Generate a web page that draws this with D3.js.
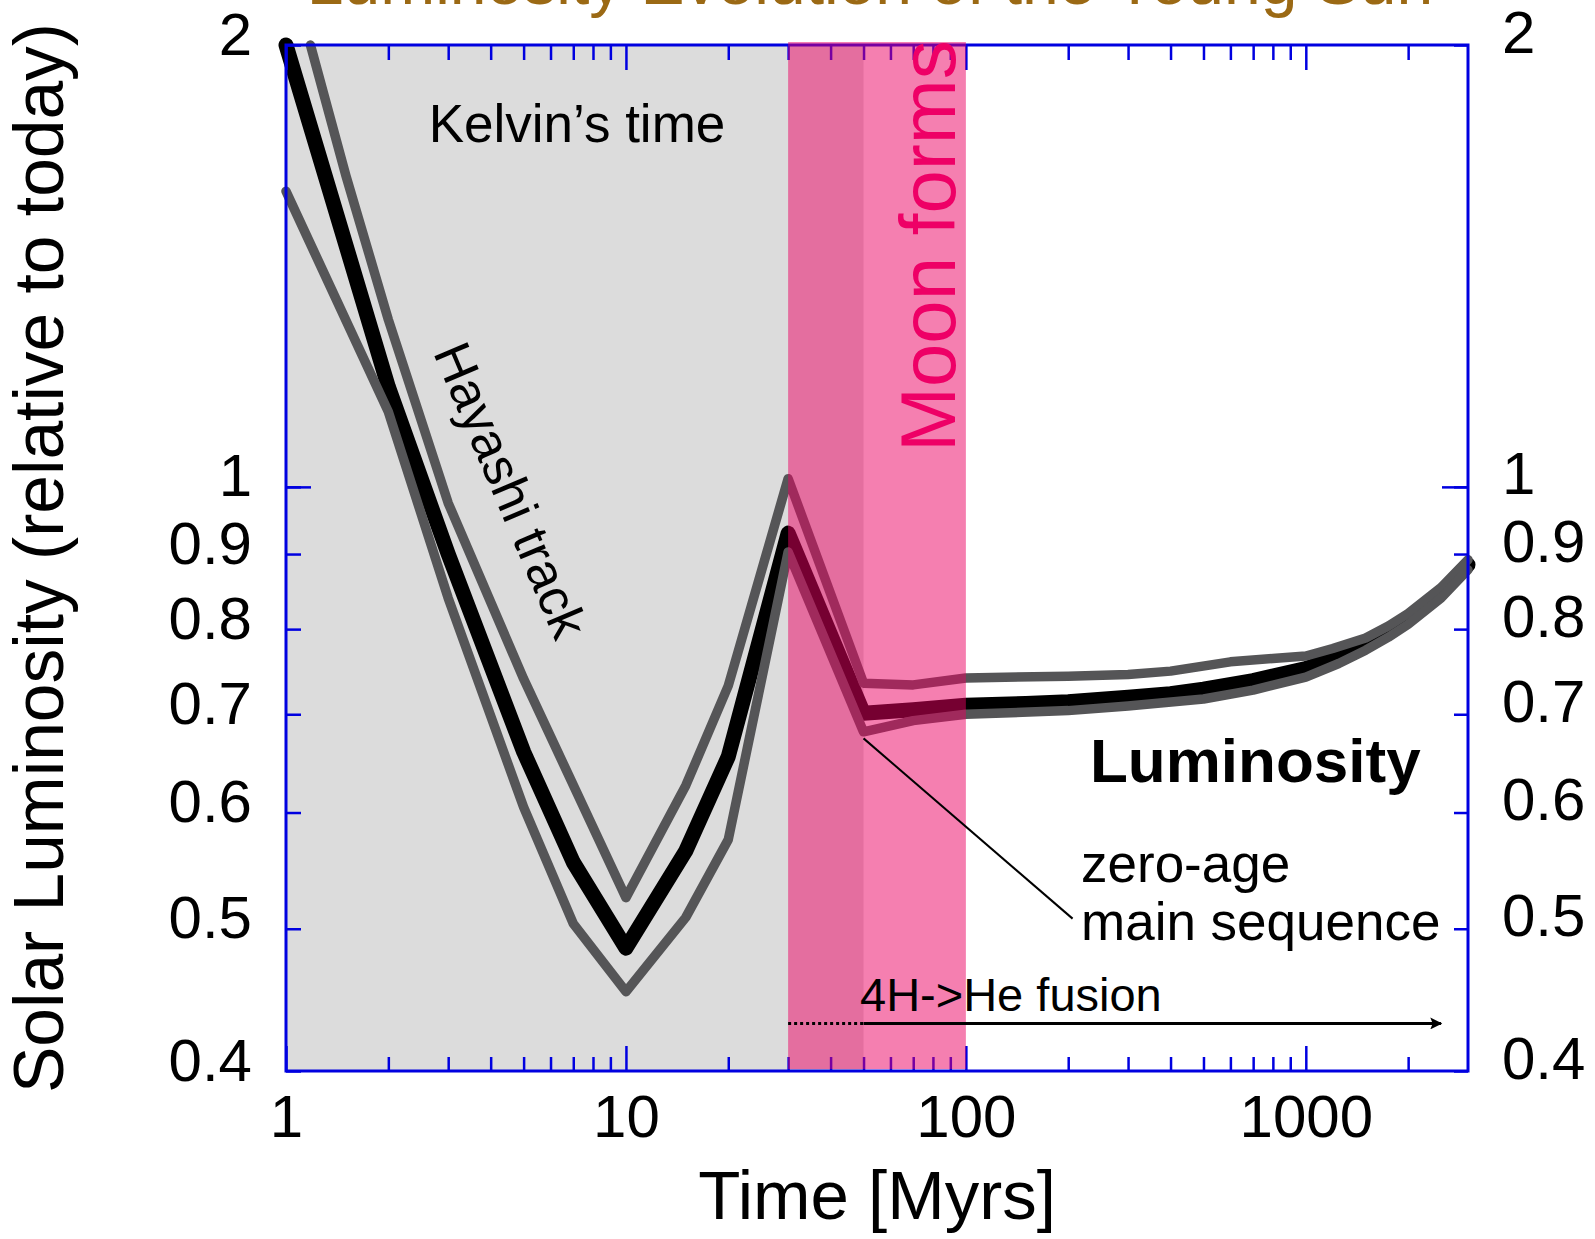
<!DOCTYPE html>
<html><head><meta charset="utf-8">
<script src="https://cdn.jsdelivr.net/npm/d3@7"></script>
<style>
body{margin:0;background:#fff;}
svg{display:block;}
text{font-family:"Liberation Sans", Arial, sans-serif;}
</style>
</head><body>
<svg id="c" width="1595" height="1239"></svg>
<script>
// ---------- data ----------
const timeDomain = [1, 3000];
const lumDomain = [0.4, 2];

// main (thick black) track
const timeBlack = [1, 2, 3, 5, 7, 10, 15, 20, 30, 50, 70, 100, 150, 200, 300, 400, 500, 700, 1000, 1250, 1500, 1750, 2000, 2500, 3000];
const lumBlack  = [2.0, 1.17, 0.90, 0.66, 0.555, 0.485, 0.565, 0.655, 0.93, 0.701, 0.705, 0.710, 0.712, 0.714, 0.719, 0.723, 0.728, 0.738, 0.752, 0.766, 0.781, 0.797, 0.813, 0.847, 0.885];

// upper grey track
const timeUpper = [1.18, 1.5, 2, 3, 5, 10, 15, 20, 30, 50, 70, 100, 200, 300, 400, 600, 800, 1000, 1200, 1500, 1750, 2000, 2500, 3000];
const lumUpper  = [2.0, 1.63, 1.30, 0.975, 0.74, 0.525, 0.626, 0.732, 1.013, 0.735, 0.733, 0.741, 0.743, 0.745, 0.749, 0.760, 0.764, 0.767, 0.776, 0.789, 0.804, 0.820, 0.854, 0.892];

// lower grey track
const timeLower = [1, 2, 3, 5, 7, 10, 15, 20, 30, 50, 70, 100, 200, 300, 500, 700, 1000, 1250, 1500, 1750, 2000, 2500, 3000];
const lumLower  = [1.59, 1.125, 0.84, 0.605, 0.504, 0.453, 0.509, 0.575, 0.903, 0.681, 0.693, 0.700, 0.704, 0.709, 0.717, 0.727, 0.742, 0.758, 0.774, 0.790, 0.806, 0.840, 0.878];

// shaded spans (Myr)
const kelvinSpan = [1, 50];
const moonSpan = [30, 100];
// fusion arrow: dotted start, solid start, tip (Myr)
const fusionArrow = [30, 50, 2500];
const fusionLevel = 0.431;
// leader line for "zero-age main sequence" [time, lum]
const leaderFrom = [50, 0.674];
const leaderTo = [206, 0.508];

// tick labels
const xTickLabels = [1, 10, 100, 1000];
const yTickLabels = [2, 1, 0.9, 0.8, 0.7, 0.6, 0.5, 0.4];
const yMajorTicks = [1];

// ---------- drawing ----------
const m = {l: 286, r: 1468, t: 45, b: 1071};
const blue = '#0000e0';
const x = d3.scaleLog().domain(timeDomain).range([m.l, m.r]);
const y = d3.scaleLog().domain(lumDomain).range([m.b, m.t]);
const svg = d3.select('#c');
const FONT = '"Liberation Sans", Arial, sans-serif';

// Kelvin's time grey area
svg.append('rect')
  .attr('x', x(kelvinSpan[0])).attr('y', m.t)
  .attr('width', x(kelvinSpan[1]) - x(kelvinSpan[0]))
  .attr('height', m.b - m.t)
  .attr('fill', '#dcdcdc');

// tracks
const line = d3.line().x(d => x(d[0])).y(d => y(d[1]));
const pairs = (xs, ys) => xs.map((v, i) => [v, ys[i]]);
function track(xs, ys, color, w) {
  svg.append('path').datum(pairs(xs, ys))
    .attr('d', line).attr('fill', 'none')
    .attr('stroke', color).attr('stroke-width', w)
    .attr('stroke-linecap', 'round').attr('stroke-linejoin', 'round');
}
track(timeBlack, lumBlack, '#000', 15);
track(timeUpper, lumUpper, '#555557', 9.5);
track(timeLower, lumLower, '#555557', 9.5);

// axes
const xMinor = x.ticks().filter(v => !xTickLabels.includes(v) && v < timeDomain[1]);
function styleAxis(g) {
  g.select('.domain').remove();
  g.selectAll('line').attr('stroke', blue).attr('stroke-width', 2.5);
  g.attr('font-family', FONT).attr('font-size', 60);
  g.selectAll('text').attr('fill', '#000');
}
// bottom
svg.append('g').attr('transform', `translate(0,${m.b})`)
  .call(d3.axisBottom(x).tickValues(xTickLabels).tickSize(-25).tickFormat(d3.format('d')))
  .call(styleAxis)
  .call(g => g.selectAll('text').attr('y', 66).attr('dy', 0));
svg.append('g').attr('transform', `translate(0,${m.b})`)
  .call(d3.axisBottom(x).tickValues(xMinor).tickSize(-14).tickFormat(''))
  .call(styleAxis);
// top
svg.append('g').attr('transform', `translate(0,${m.t})`)
  .call(d3.axisTop(x).tickValues(xTickLabels).tickSize(-25).tickFormat(''))
  .call(styleAxis);
svg.append('g').attr('transform', `translate(0,${m.t})`)
  .call(d3.axisTop(x).tickValues(xMinor).tickSize(-15).tickFormat(''))
  .call(styleAxis);
// left
svg.append('g').attr('transform', `translate(${m.l},0)`)
  .call(d3.axisLeft(y).tickValues(yTickLabels).tickSize(-15).tickFormat(d => String(d)))
  .call(styleAxis)
  .call(g => g.selectAll('text').attr('x', -34).attr('dy', 9));
svg.append('g').attr('transform', `translate(${m.l},0)`)
  .call(d3.axisLeft(y).tickValues(yMajorTicks).tickSize(-25).tickFormat(''))
  .call(styleAxis);
// right
svg.append('g').attr('transform', `translate(${m.r},0)`)
  .call(d3.axisRight(y).tickValues(yTickLabels).tickSize(-14).tickFormat(d => String(d)))
  .call(styleAxis)
  .call(g => g.selectAll('text').attr('x', 34).attr('dy', 7));
svg.append('g').attr('transform', `translate(${m.r},0)`)
  .call(d3.axisRight(y).tickValues(yMajorTicks).tickSize(-26).tickFormat(''))
  .call(styleAxis);

// frame
svg.append('rect').attr('x', m.l).attr('y', m.t)
  .attr('width', m.r - m.l).attr('height', m.b - m.t)
  .attr('fill', 'none').attr('stroke', blue).attr('stroke-width', 3);

// Moon forms band (translucent, over everything)
svg.append('rect')
  .attr('x', x(moonSpan[0])).attr('y', m.t - 3)
  .attr('width', x(moonSpan[1]) - x(moonSpan[0]))
  .attr('height', m.b - m.t + 1)
  .attr('fill', 'rgb(235,0,97)').attr('fill-opacity', 0.5);

svg.append('text')
  .attr('transform', `translate(955,452) rotate(-90)`)
  .attr('font-size', 78).attr('fill', '#ee0066')
  .text('Moon forms');

// fusion arrow
svg.append('defs').append('marker')
  .attr('id', 'ah').attr('viewBox', '0 0 10 10').attr('refX', 9).attr('refY', 5)
  .attr('markerWidth', 5).attr('markerHeight', 4).attr('orient', 'auto')
  .attr('markerUnits', 'strokeWidth')
  .append('path').attr('d', 'M0,0 L10,5 L0,10 L2,5 Z').attr('fill', '#000');
svg.append('line')
  .attr('x1', x(fusionArrow[0])).attr('x2', x(fusionArrow[1]))
  .attr('y1', y(fusionLevel)).attr('y2', y(fusionLevel))
  .attr('stroke', '#000').attr('stroke-width', 3).attr('stroke-dasharray', '3,3');
svg.append('line')
  .attr('x1', x(fusionArrow[1])).attr('x2', x(fusionArrow[2]))
  .attr('y1', y(fusionLevel)).attr('y2', y(fusionLevel))
  .attr('stroke', '#000').attr('stroke-width', 3).attr('marker-end', 'url(#ah)');
svg.append('text').attr('x', 860).attr('y', 1011).attr('font-size', 47).text('4H->He fusion');

// leader
svg.append('line')
  .attr('x1', x(leaderFrom[0])).attr('y1', y(leaderFrom[1]))
  .attr('x2', x(leaderTo[0])).attr('y2', y(leaderTo[1]))
  .attr('stroke', '#000').attr('stroke-width', 2);

// annotations
svg.append('text').attr('x', 577).attr('y', 142).attr('font-size', 53)
  .attr('text-anchor', 'middle').text('Kelvin\u2019s time');
svg.append('text').attr('transform', 'translate(511,490) rotate(67)')
  .attr('font-size', 52).attr('text-anchor', 'middle').attr('dy', '0.35em')
  .text('Hayashi track');
svg.append('text').attr('x', 1090).attr('y', 782).attr('font-size', 62)
  .attr('font-weight', 'bold').text('Luminosity');
svg.append('text').attr('x', 1081).attr('y', 882).attr('font-size', 53).text('zero-age');
svg.append('text').attr('x', 1081).attr('y', 940).attr('font-size', 53).text('main sequence');

// axis titles
svg.append('text').attr('x', 877).attr('y', 1219).attr('font-size', 69)
  .attr('text-anchor', 'middle').text('Time [Myrs]');
svg.append('text').attr('transform', 'translate(63,558) rotate(-90)')
  .attr('font-size', 69.5).attr('text-anchor', 'middle')
  .text('Solar Luminosity (relative to today)');

// title (cut off at top, as in the original)
svg.append('text').attr('x', 870).attr('y', 4).attr('font-size', 66)
  .attr('text-anchor', 'middle').attr('fill', '#9b6914')
  .text('Luminosity Evolution of the Young Sun');
</script>
</body></html>
